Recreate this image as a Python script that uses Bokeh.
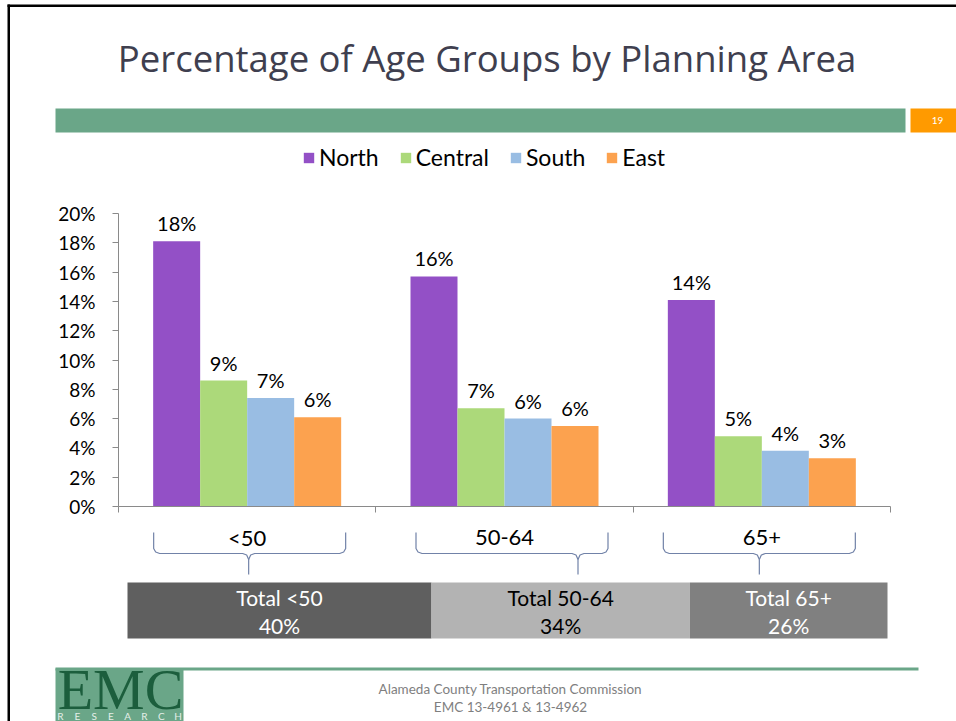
import numpy as np
from bokeh.plotting import figure
from bokeh.models import (Range1d, FixedTicker, PrintfTickFormatter, Label, BoxAnnotation,
                          Legend, LegendItem, ColumnDataSource)
from bokeh.transform import dodge
from bokeh.core.properties import value
from bokeh.embed import file_html
from bokeh.resources import INLINE

# ---------------- data ----------------
age_groups = ["<50", "50-64", "65+"]
areas = ["North", "Central", "South", "East"]
north = [18.1, 15.7, 14.1]
central = [8.6, 6.7, 4.8]
south = [7.4, 6.0, 3.8]
east = [6.1, 5.5, 3.3]
total_names = ["Total <50", "Total 50-64", "Total 65+"]
total_pct = [40, 34, 26]
y_ticks = [0, 2, 4, 6, 8, 10, 12, 14, 16, 18, 20]

area_colors = ["#9350c6", "#acd97a", "#99bde3", "#fca24f"]
total_colors = ["#5f5f5f", "#b3b3b3", "#808080"]
total_text_colors = ["#ffffff", "#000000", "#ffffff"]

FONT = "Lato"

# ---------------- page geometry (canvas px, frame = whole canvas) ----------------
W, H = 956, 721
X_LEFT, X_RIGHT = 118, 890     # x = 0 .. 3 (category slots)
Y_ZERO, Y_TOP = 506, 213       # y = 0 .. 20 (%)
PPX = (X_RIGHT - X_LEFT) / 3
PPY = (Y_ZERO - Y_TOP) / 20
UX = 1 / PPX
UY = 1 / PPY


def dy(py):
    return (Y_ZERO - py) * UY


def sy(py):
    return H - py


x_range = Range1d(-X_LEFT * UX, 3 + (W - X_RIGHT) * UX)
y_range = Range1d(dy(H), dy(0))

p = figure(width=W, height=H, x_range=x_range, y_range=y_range,
           output_backend="svg", toolbar_location=None,
           min_border=0, min_border_left=0, min_border_right=0,
           min_border_top=0, min_border_bottom=0)
p.outline_line_color = None
p.xgrid.grid_line_color = None
p.ygrid.grid_line_color = None
p.background_fill_color = "white"
p.border_fill_color = "white"

AX_COL = "#8a8a8a"
yax = p.yaxis[0]
yax.fixed_location = 0
yax.ticker = FixedTicker(ticks=y_ticks)
yax.formatter = PrintfTickFormatter(format="%d%%")
yax.bounds = (0, 20)
yax.axis_line_color = AX_COL
yax.major_tick_line_color = AX_COL
yax.minor_tick_line_color = None
yax.major_tick_out = 6
yax.major_tick_in = 0
yax.major_label_standoff = 17
yax.major_label_text_font = FONT
yax.major_label_text_font_size = "19px"
yax.major_label_text_color = "#000000"

xax = p.xaxis[0]
xax.fixed_location = 0
xax.ticker = FixedTicker(ticks=[0, 1, 2, 3])
xax.bounds = (0, 3)
xax.axis_line_color = AX_COL
xax.major_tick_line_color = AX_COL
xax.minor_tick_line_color = None
xax.major_tick_out = 6
xax.major_tick_in = 0
xax.major_label_text_color = None
xax.major_label_text_font_size = "1px"

# ---------------- bars ----------------
centers = [i + 0.5 for i in range(len(age_groups))]
series = dict(North=north, Central=central, South=south, East=east)
data = dict(x=centers)
for name, vals in series.items():
    data[name] = vals
    data[name + "_lbl"] = [f"{v:.0f}%" for v in vals]
src = ColumnDataSource(data)

BAR_W = 47 * UX
items = []
for k, (name, col) in enumerate(zip(areas, area_colors)):
    off = (k - 1.5) * BAR_W
    r = p.vbar(x=dodge("x", off, range=p.x_range), top=name, width=BAR_W, source=src,
               fill_color=col, line_color=None)
    p.text(x=dodge("x", off, range=p.x_range), y=name, text=name + "_lbl", source=src,
           text_align="center", text_baseline="middle", y_offset=-18,
           text_font=value(FONT), text_font_size="20px", text_color="#000000")
    items.append(LegendItem(label=name, renderers=[r]))

legend = Legend(items=items, orientation="horizontal", location=(302, sy(171)),
                glyph_width=13, glyph_height=13, label_standoff=4, spacing=20,
                padding=0, margin=0, border_line_color=None, background_fill_alpha=0,
                label_text_font=FONT, label_text_font_size="23px", label_height=24,
                label_text_color="#000000")
p.add_layout(legend)

# ---------------- category labels & brackets ----------------
p.text(x=centers, y=[dy(537)] * 3, text=age_groups, text_align="center",
       text_baseline="middle", text_font=value(FONT), text_font_size="22px",
       text_color="#000000")

bracket_shift = [2.5, 7.5, -2.5]     # px, bracket centre vs category centre
spike_shift = [-1, 66, 0]            # px, spike vs bracket centre
HALF = 96
xs_all, ys_all = [], []
for c, bs, ss in zip(centers, bracket_shift, spike_shift):
    bc = c + bs * UX
    xl, xr, xsp = bc - HALF * UX, bc + HALF * UX, bc + ss * UX
    left_pts = [(xl, 532), (xl, 548), (xl + 2 * UX, 551.5), (xl + 6 * UX, 553),
                (xsp - 6 * UX, 553), (xsp - 2 * UX, 554.5), (xsp, 559), (xsp, 574)]
    right_pts = [(xsp, 559), (xsp + 2 * UX, 554.5), (xsp + 6 * UX, 553), (xr - 6 * UX, 553),
                 (xr - 2 * UX, 551.5), (xr, 548), (xr, 532)]
    for pts in (left_pts, right_pts):
        xs_all.append([q[0] for q in pts])
        ys_all.append([dy(q[1]) for q in pts])
p.multi_line(xs=xs_all, ys=ys_all, line_color="#7182a8", line_width=1.2)

# ---------------- totals bar ----------------
T_L, T_R = 127, 887
ppu = (T_R - T_L) / 100
p.extra_x_ranges = {"tot": Range1d(-T_L / ppu, 100 + (W - T_R) / ppu)}
rights = np.cumsum(total_pct)
lefts = rights - np.array(total_pct)
tsrc = ColumnDataSource(dict(left=lefts, right=rights, mid=(lefts + rights) / 2,
                             color=total_colors, tcol=total_text_colors, name=total_names,
                             pct=[f"{v}%" for v in total_pct]))
p.hbar(y=dy(610), height=56 * UY, left="left", right="right", source=tsrc,
       fill_color="color", line_color=None, x_range_name="tot")
p.text(x="mid", y=dy(597), text="name", source=tsrc, x_range_name="tot",
       text_align="center", text_baseline="middle", text_font=value(FONT),
       text_font_size="21px", text_color="tcol")
p.text(x="mid", y=dy(625), text="pct", source=tsrc, x_range_name="tot",
       text_align="center", text_baseline="middle", text_font=value(FONT),
       text_font_size="21px", text_color="tcol")


# ---------------- slide decorations ----------------
def box(l, r, t, b, color):
    p.add_layout(BoxAnnotation(left=l, right=r, top=sy(t), bottom=sy(b),
                               left_units="screen", right_units="screen",
                               top_units="screen", bottom_units="screen",
                               fill_color=color, fill_alpha=1, line_color=None))


def label(x, y, text, size, color, font=FONT, align="center"):
    p.add_layout(Label(x=x, y=sy(y), x_units="screen", y_units="screen", text=text,
                       text_align=align, text_baseline="middle", text_font=font,
                       text_font_size=size, text_color=color))


box(7, 9.5, 4, H, "#000000")
box(7, W, 4, 6.5, "#000000")
label(486.5, 57, "Percentage of Age Groups by Planning Area", "36.5px", "#3f3f4f", font="Open Sans")
box(55, 905, 108, 132, "#6aa688")
box(910, W, 108, 132, "#ff9a00")
label(937, 120, "19", "10px", "#ffffff")
box(55, 918, 667, 670, "#6aa688")
box(55, 183, 668, H, "#6aa688")
label(120, 689, "EMC", "58px", "#1c5e3d", font="Liberation Serif")
for i, ch in enumerate("RESEARCH"):
    label(60 + i * 16.8, 715, ch, "10px", "#e4efe8")
label(510, 688, "Alameda County Transportation Commission", "13.5px", "#7f7f7f")
label(510, 706, "EMC 13-4961 & 13-4962", "13.5px", "#7f7f7f")

open("out.html", "w").write(file_html(p, INLINE, title="Percentage of Age Groups by Planning Area"))
